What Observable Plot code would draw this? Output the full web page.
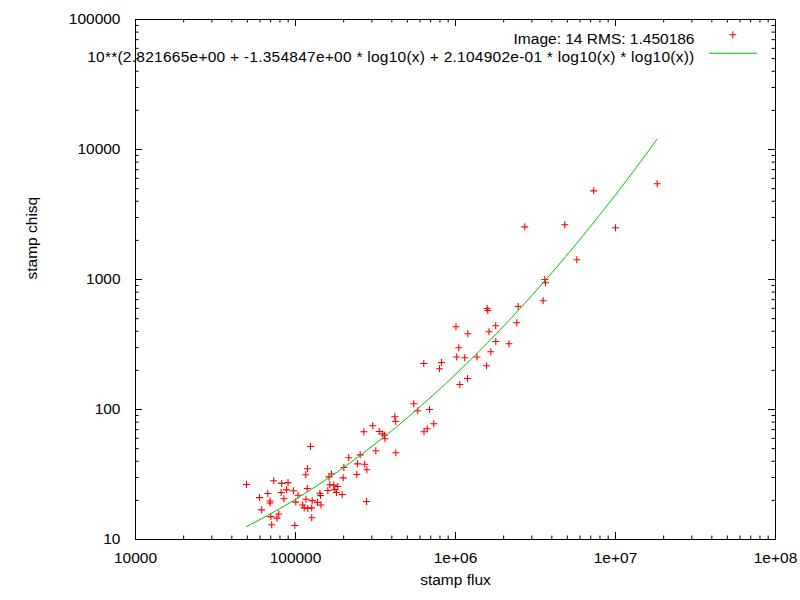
<!DOCTYPE html>
<html><head><meta charset="utf-8">
<script src="https://cdn.jsdelivr.net/npm/d3@7"></script>
<script src="https://cdn.jsdelivr.net/npm/@observablehq/plot@0.6"></script>
<style>body{margin:0;background:#fff} .fitlabel{letter-spacing:0.25px}</style>
</head><body><div id="chart"></div>
<script>
const flux = [49400,73100,82000,89800,87900,81400,67100,59600,69300,69300,61500,97100,103700,84600,100400,78600,76600,70100,71000,99000,
124100,118900,115900,118500,116300,110900,113300,119400,126300,126300,127100,137200,141900,143300,144300,159300,163800,161900,173400,183700,
176000,180300,195800,198700,200500,215100,244100,241600,253600,270900,279000,278000,267300,303800,333600,350800,359900,362500,317600,423600,
417500,422800,635600,665500,548200,580700,687900,731400,633600,817600,794300,1007000,1194000,1048000,1017000,1142000,1362000,1563000,1189000,1064000,
1574000,1592000,1783000,1619000,1786000,1662000,2158000,2464000,2415000,2710000,4820000,10000000,5730000,3614000,3651000,3532000,7310000,18220000,167800];
const chisq = [26.5,28.3,27.0,27.4,24.1,23.0,22.6,21.0,19.8,19.1,16.9,23.7,21.9,20.6,19.4,15.7,14.6,15.0,13.0,12.8,
51.9,35.0,31.5,24.7,20.4,18.4,17.5,17.3,17.5,14.7,19.9,19.3,22.7,21.8,18.4,23.8,26.4,30.3,26.2,25.6,
24.2,23.0,22.2,29.8,35.8,42.5,38.2,31.6,44.8,37.9,34.4,19.6,67.4,74.9,67.8,65.0,63.4,59.6,48.1,46.5,
87.9,80.9,67.4,71.1,110.7,97.7,100,77.6,225.7,229.9,205.6,433.5,383,298.3,253.5,250,253.5,217.3,173,155.6,
598,577.7,441.1,396,333.3,278.4,320.6,619.4,464.5,2541,2635,2500,1418,1000,944,685.5,4808,5445,31.9];

const xTicks = [1e4, 1e5, 1e6, 1e7, 1e8];
const xTickLabels = ["10000", "100000", "1e+06", "1e+07", "1e+08"];
const yTicks = [10, 100, 1000, 10000, 100000];
const yTickLabels = ["10", "100", "1000", "10000", "100000"];
const fitCoef = [2.821665, -1.354847, 0.2104902];
const legendPoints = "Image: 14 RMS: 1.450186";
const legendFit = "10**(2.821665e+00 + -1.354847e+00 * log10(x) + 2.104902e-01 * log10(x) * log10(x))";
const xLabel = "stamp flux";
const yLabel = "stamp chisq";

const points = flux.map((f, i) => ({flux: f, chisq: chisq[i]}));

// fitted curve, sampled (100 samples, log-spaced) over the data range
const lo = Math.log10(d3.min(flux)), hi = Math.log10(d3.max(flux));
const fit = d3.range(100).map(i => {
  const L = lo + (hi - lo) * i / 99;
  return {flux: Math.pow(10, L), chisq: Math.pow(10, fitCoef[0] + fitCoef[1] * L + fitCoef[2] * L * L)};
});

const minorOf = ticks => ticks.slice(0, -1).flatMap(t => d3.range(2, 10).map(k => k * t));
const xMinor = minorOf(xTicks);
const yMinor = minorOf(yTicks);

const W = 800, H = 600, mL = 135, mR = 25, mT = 19, mB = 61;
const pw = W - mL - mR, ph = H - mT - mB;
const MAJ = 7, MIN = 3.5;
const R = 2.4;

const chart = Plot.plot({
  width: W, height: H,
  marginLeft: mL, marginRight: mR, marginTop: mT, marginBottom: mB,
  style: {fontFamily: "'Liberation Sans', Arial, sans-serif", fontSize: "15.5px", background: "white", color: "black"},
  x: {type: "log", domain: [1e4, 1e8], axis: null},
  y: {type: "log", domain: [10, 1e5], axis: null},
  marks: [
    // ticks (inward, mirrored on all sides)
    Plot.ruleX(xTicks, {insetTop: ph - MAJ, stroke: "black"}),
    Plot.ruleX(xTicks, {insetBottom: ph - MAJ, stroke: "black"}),
    Plot.ruleX(xMinor, {insetTop: ph - MIN, stroke: "black"}),
    Plot.ruleX(xMinor, {insetBottom: ph - MIN, stroke: "black"}),
    Plot.ruleY(yTicks, {insetRight: pw - MAJ, stroke: "black"}),
    Plot.ruleY(yTicks, {insetLeft: pw - MAJ, stroke: "black"}),
    Plot.ruleY(yMinor, {insetRight: pw - MIN, stroke: "black"}),
    Plot.ruleY(yMinor, {insetLeft: pw - MIN, stroke: "black"}),
    Plot.axisX({ticks: xTicks, tickSize: 0, tickPadding: 12, label: null, fontSize: 15.5,
      tickFormat: d => xTickLabels[xTicks.indexOf(d)]}),
    Plot.axisY({ticks: yTicks, tickSize: 0, tickPadding: 15, label: null, fontSize: 15.5,
      tickFormat: d => yTickLabels[yTicks.indexOf(d)]}),
    Plot.text([xLabel], {x: null, y: null, text: d => d, frameAnchor: "bottom", dy: 45, fontSize: 15.5}),
    Plot.text([yLabel], {x: null, y: null, text: d => d, frameAnchor: "left", dx: -103, rotate: -90, fontSize: 15.5}),
    // data
    Plot.dot(points, {x: "flux", y: "chisq", symbol: "plus", r: R, stroke: "red", strokeWidth: 1.1}),
    Plot.line(fit, {x: "flux", y: "chisq", stroke: "#00c000", strokeWidth: 1}),
    // legend
    Plot.text([legendPoints], {x: null, y: null, text: d => d, frameAnchor: "top-right", textAnchor: "end", dx: -81, dy: 13.5, fontSize: 15.5}),
    Plot.text([legendFit], {x: null, y: null, text: d => d, frameAnchor: "top-right", textAnchor: "end", dx: -81, dy: 31.5, fontSize: 15.5, className: "fitlabel"}),
    Plot.dot([0], {x: null, y: null, frameAnchor: "top-right", dx: -42.7, dy: 15.3, symbol: "plus", r: R, stroke: "red", strokeWidth: 1.1}),
    Plot.vector([0], {x: null, y: null, frameAnchor: "top-right", dx: -42.7, dy: 33.7, rotate: 90, length: 46.7, anchor: "middle", r: 0, stroke: "#00c000", strokeWidth: 1}),
    Plot.frame({stroke: "black"})
  ]
});
document.getElementById("chart").appendChild(chart);
</script>
</body></html>
